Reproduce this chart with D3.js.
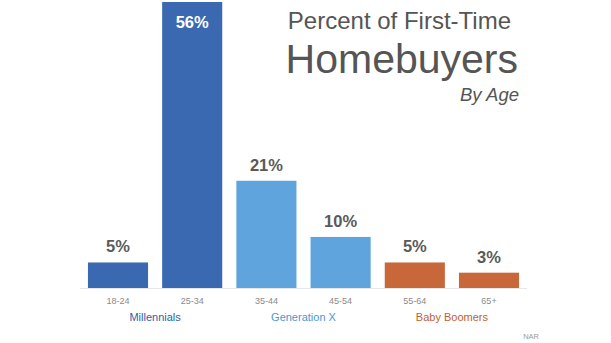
<!DOCTYPE html>
<html>
<head>
<meta charset="utf-8">
<script src="https://cdn.jsdelivr.net/npm/d3@7"></script>
<style>
  html, body { margin: 0; padding: 0; background: #fff; }
  svg { display: block; font-family: "Liberation Sans", Arial, Helvetica, sans-serif; }
</style>
</head>
<body>
<svg id="chart" width="611" height="343"></svg>
<script>
// Share of first-time homebuyers by age bracket (NAR)
const ageGroups = ["18-24", "25-34", "35-44", "45-54", "55-64", "65+"];
const shares = [5, 56, 21, 10, 5, 3];
const generations = ["Millennials", "Millennials", "Generation X", "Generation X", "Baby Boomers", "Baby Boomers"];
const generationNames = ["Millennials", "Generation X", "Baby Boomers"];
const generationColors = ["#3b69b1", "#5fa4dc", "#c7673a"];
const generationTextColors = ["#2f5fa8", "#4a97d4", "#c2612f"];

const svg = d3.select("#chart");

const x = d3.scaleBand()
  .domain(ageGroups)
  .range([80, 527])
  .paddingInner(0.19)
  .paddingOuter(0.107);

const y = d3.scaleLinear()
  .domain([0, 56])
  .range([288, 2]);

const colorOf = d3.scaleOrdinal().domain(generationNames).range(generationColors);
const textColorOf = d3.scaleOrdinal().domain(generationNames).range(generationTextColors);

// baseline
svg.append("line")
  .attr("x1", 80).attr("x2", 527)
  .attr("y1", y(0) + 0.5).attr("y2", y(0) + 0.5)
  .attr("stroke", "#e6e6e6").attr("stroke-width", 1);

const data = ageGroups.map((a, i) => ({ age: a, value: shares[i], gen: generations[i] }));

// bars
svg.selectAll("rect.bar")
  .data(data)
  .join("rect")
  .attr("class", "bar")
  .attr("x", d => x(d.age))
  .attr("y", d => y(d.value))
  .attr("width", x.bandwidth())
  .attr("height", d => y(0) - y(d.value))
  .attr("fill", d => colorOf(d.gen));

// value labels: inside the tallest bar, above the others
const maxVal = d3.max(shares);
svg.selectAll("text.value")
  .data(data)
  .join("text")
  .attr("class", "value")
  .attr("x", d => x(d.age) + x.bandwidth() / 2)
  .attr("y", d => d.value === maxVal ? y(d.value) + 26 : y(d.value) - 10)
  .attr("text-anchor", "middle")
  .attr("font-size", 16.5)
  .attr("font-weight", "bold")
  .attr("fill", d => d.value === maxVal ? "#ffffff" : "#5a5a5a")
  .text(d => d.value + "%");

// age tick labels
const xAxis = d3.axisBottom(x).tickSize(0).tickPadding(0);
const axisG = svg.append("g")
  .attr("transform", `translate(0,${y(0)})`)
  .call(xAxis);
axisG.select(".domain").remove();
axisG.selectAll("text")
  .attr("y", 16)
  .attr("dy", 0)
  .attr("font-size", 9)
  .attr("font-family", "Liberation Sans, Arial, sans-serif")
  .attr("fill", "#8a8a8a");

// generation labels centered under each pair of bars
generationNames.forEach(g => {
  const ages = data.filter(d => d.gen === g).map(d => d.age);
  const cx = d3.mean(ages, a => x(a) + x.bandwidth() / 2);
  svg.append("text")
    .attr("x", cx)
    .attr("y", 321)
    .attr("text-anchor", "middle")
    .attr("font-size", 11)
    .attr("fill", textColorOf(g))
    .text(g);
});

// title block
svg.append("text")
  .attr("x", 511).attr("y", 29)
  .attr("text-anchor", "end")
  .attr("font-size", 24)
  .attr("fill", "#555")
  .text("Percent of First-Time");
svg.append("text")
  .attr("x", 518).attr("y", 73)
  .attr("text-anchor", "end")
  .attr("font-size", 41)
  .attr("fill", "#555")
  .text("Homebuyers");
svg.append("text")
  .attr("x", 519).attr("y", 101)
  .attr("text-anchor", "end")
  .attr("font-size", 18.5)
  .attr("font-style", "italic")
  .attr("fill", "#555")
  .text("By Age");

// source
svg.append("text")
  .attr("x", 539).attr("y", 339)
  .attr("text-anchor", "end")
  .attr("font-size", 7.5)
  .attr("fill", "#999")
  .text("NAR");
</script>
</body>
</html>
